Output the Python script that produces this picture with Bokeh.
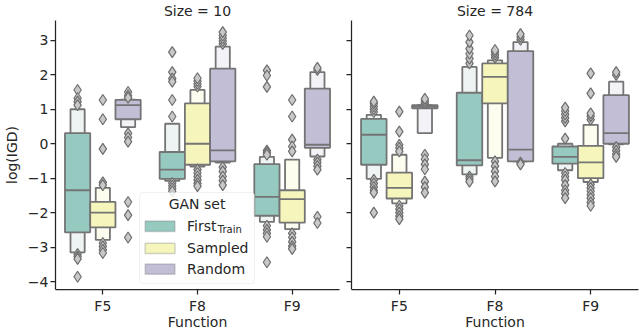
from bokeh.plotting import figure
from bokeh.models import Range1d, FixedTicker, BoxAnnotation, Label, CustomLabelingPolicy, Title
from bokeh.layouts import row
from bokeh.embed import file_html
from bokeh.resources import INLINE

# ---------------- data ----------------
functions = ["F5", "F8", "F9"]
gan_sets = ["First", "Sampled", "Random"]
panel_titles = ["Size = 10", "Size = 784"]
x_title = "Function"
y_title = "log(IGD)"
legend_title = "GAN set"
y_ticks = [-4, -3, -2, -1, 0, 1, 2, 3]
y_tick_labels = ["\u22124", "\u22123", "\u22122", "\u22121", "0", "1", "2", "3"]

# order of groups: F5-First, F5-Sampled, F5-Random, F8-First, ..., F9-Random
s10_inner_lo = [-2.57, -2.43, 0.71, -1.02, -0.61, -0.51, -2.09, -2.29, -0.12]
s10_inner_hi = [0.31, -1.69, 1.27, -0.24, 1.17, 2.18, -0.59, -1.35, 1.60]
s10_median = [-1.35, -2.00, 1.12, -0.75, 0.00, -0.19, -1.54, -1.61, -0.03]
s10_outer_lo = [-3.15, -2.79, 0.48, -1.08, -0.66, -0.55, -2.27, -2.48, -0.37]
s10_outer_hi = [1.00, -1.28, 1.28, 0.58, 1.56, 2.82, -0.38, -0.46, 2.08]
s10_outliers = [
    [1.56, 1.32, 1.22, 1.12, -3.20, -3.27, -3.34, -3.86],
    [1.27, 0.71, -0.15, -1.12, -1.20, -2.88, -2.98, -3.08, -3.17],
    [1.50, 1.40, 1.34, 0.30, 0.18, 0.06, -1.69, -2.07, -2.72],
    [2.66, 2.08, 1.89, 1.80, 1.27, 0.79, -1.14, -1.22, -1.30, -1.38],
    [1.66, 1.74, 1.82, 1.90, -0.75, -0.85, -0.95, -1.05, -1.15, -1.23],
    [2.90, 2.98, 3.06, 3.14, 3.24, -0.68, -0.80, -0.95, -1.07, -1.20],
    [2.13, 1.98, 1.65, -0.20, -0.26, -0.32, -2.38, -2.50, -2.60, -2.70, -3.44],
    [1.27, 0.79, 0.12, -0.08, -0.22, -2.60, -2.72, -2.85, -2.97, -3.05],
    [2.14, 2.20, -0.46, -0.55, -0.65, -0.75, -2.12, -2.30],
]

s784_inner_lo = [-0.61, -1.59, 1.03, -0.63, 1.17, -0.51, -0.58, -1.00, 0.00]
s784_inner_hi = [0.72, -0.84, 1.12, 1.48, 2.33, 2.69, -0.08, -0.06, 1.41]
s784_median = [0.26, -1.28, 1.08, -0.48, 1.94, -0.17, -0.38, -0.54, 0.31]
s784_outer_lo = [-1.02, -1.73, 0.31, -0.89, -0.41, -0.51, -0.77, -1.11, -0.02]
s784_outer_hi = [0.84, -0.32, 1.12, 2.23, 2.42, 2.95, 0.00, 0.55, 1.80]
s784_outliers = [
    [0.92, 1.00, 1.08, 1.16, 1.22, -1.05, -1.15, -1.25, -1.35, -1.42, -2.00],
    [0.93, 0.35, -0.03, -0.12, -0.22, -1.80, -1.90, -2.00, -2.10, -2.19],
    [1.18, 1.24, 1.30, -0.32, -0.45, -0.60, -0.74, -1.10, -1.26, -1.42],
    [2.33, 2.47, 2.61, 2.76, 2.95, 3.14, -0.95, -1.02, -1.10],
    [2.50, 2.58, 2.66, 2.72, -0.51, -0.65, -0.80, -0.95, -1.09],
    [3.02, 3.10, 3.18, -0.55, -0.60],
    [0.15, 0.65, 0.75, 0.85, 0.95, 1.05, -0.85, -0.95, -1.05, -1.20, -1.35, -1.45, -1.58],
    [2.04, 1.46, 0.70, 0.80, 0.88, -1.18, -1.28, -1.38, -1.48, -1.58, -1.70, -1.80],
    [2.00, 2.08, -0.10, -0.20, -0.30, -0.38],
]

# ---------------- style ----------------
inner_colors = ["#96cac1", "#f6f6bc", "#c1bed6"]
outer_colors = ["#eef4f3", "#fdfdef", "#f3f2f7"]
edge = "#747474"
ink = "#262626"
FONT = "DejaVu Sans"
Y_TOP = 3.576
Y_BOT = -4.230
FRAME_L = 53
FRAME_T = 20
FRAME_W = 286
FRAME_H = 271
INNER_W = 0.8 / 3
OUTER_W = 0.15
OFFS = [-INNER_W, 0.0, INNER_W]


def px_to_x(px):
    return -0.5 + (px - FRAME_L) / FRAME_W * 3


def py_to_y(py):
    return Y_TOP - (py - FRAME_T) * (Y_TOP - Y_BOT) / FRAME_H


def make_fig(width, left, right, title):
    t = Title(text=title, align="center", vertical_align="top", standoff=0,
              text_font=FONT, text_font_size="14px", text_font_style="normal",
              text_color=ink, text_line_height=0.6)
    p = figure(width=width, height=332, x_range=Range1d(-0.5, 2.5),
               y_range=Range1d(Y_BOT, Y_TOP), output_backend="svg",
               toolbar_location=None, min_border_left=left, min_border_right=right,
               min_border_top=FRAME_T, min_border_bottom=41, title=t)
    p.outline_line_color = None
    p.xgrid.visible = False
    p.ygrid.visible = False
    p.background_fill_color = "white"
    p.border_fill_color = "white"
    for ax in p.axis:
        ax.axis_line_color = ink
        ax.axis_line_width = 1.25
        ax.major_tick_line_color = ink
        ax.major_tick_line_width = 1.25
        ax.major_tick_out = 5
        ax.major_tick_in = 0
        ax.minor_tick_out = 0
        ax.minor_tick_in = 0
        ax.major_label_text_font = FONT
        ax.major_label_text_font_size = "14px"
        ax.major_label_text_color = ink
        ax.axis_label_text_font = FONT
        ax.axis_label_text_font_size = "14px"
        ax.axis_label_text_font_style = "normal"
        ax.axis_label_text_color = ink
    p.xaxis.ticker = FixedTicker(ticks=list(range(len(functions))))
    p.xaxis.major_label_overrides = {i: f for i, f in enumerate(functions)}
    p.xaxis.major_label_standoff = 3
    p.xaxis.axis_label = x_title
    p.xaxis.axis_label_standoff = -3
    p.yaxis.ticker = FixedTicker(ticks=y_ticks)
    return p


def draw_panel(p, inner_lo, inner_hi, median, outer_lo, outer_hi, outliers):
    xs, cols_in, cols_out = [], [], []
    for fi in range(len(functions)):
        for si in range(len(gan_sets)):
            xs.append(fi + OFFS[si])
            cols_in.append(inner_colors[si])
            cols_out.append(outer_colors[si])
    p.quad(left=[x - OUTER_W / 2 for x in xs], right=[x + OUTER_W / 2 for x in xs],
           bottom=outer_lo, top=outer_hi, fill_color=cols_out,
           line_color=edge, line_width=1.8)
    p.quad(left=[x - INNER_W / 2 for x in xs], right=[x + INNER_W / 2 for x in xs],
           bottom=inner_lo, top=inner_hi, fill_color=cols_in,
           line_color=edge, line_width=1.8)
    p.segment(x0=[x - INNER_W / 2 for x in xs], x1=[x + INNER_W / 2 for x in xs],
              y0=median, y1=median, line_color=edge, line_width=1.8)
    ox, oy = [], []
    for x, vals in zip(xs, outliers):
        for v in vals:
            ox.append(x)
            oy.append(v)
    p.scatter(ox, oy, marker="diamond", size=11, fill_color="#c8c8c8",
              line_color="#6e6e6e", line_width=1.2)


# ---------------- left panel ----------------
p1 = make_fig(340, FRAME_L, 1, panel_titles[0])
p1.yaxis.major_label_overrides = {t: l for t, l in zip(y_ticks, y_tick_labels)}
p1.yaxis.axis_label = y_title
p1.yaxis.major_label_standoff = 2
p1.yaxis.axis_label_standoff = 5
draw_panel(p1, s10_inner_lo, s10_inner_hi, s10_median, s10_outer_lo,
           s10_outer_hi, s10_outliers)

# legend (drawn by hand to allow the subscript)
p1.add_layout(BoxAnnotation(left=px_to_x(137.7), right=px_to_x(253.3),
                            top=py_to_y(193.3), bottom=py_to_y(285),
                            fill_color="white", fill_alpha=0.85,
                            line_color="#cccccc", line_width=1, border_radius=3))
p1.add_layout(Label(x=px_to_x(195.5), y=py_to_y(205), text=legend_title,
                    text_align="center", text_baseline="middle", text_font=FONT,
                    text_font_size="14px", text_color=ink))
row_centers = [227.3, 249.5, 270.5]
for si, name in enumerate(gan_sets):
    yc = row_centers[si]
    p1.add_layout(BoxAnnotation(left=px_to_x(143.3), right=px_to_x(173.3),
                                top=py_to_y(yc - 5.2), bottom=py_to_y(yc + 5.2),
                                fill_color=inner_colors[si], fill_alpha=1,
                                line_color=edge, line_width=1.5))
    p1.add_layout(Label(x=px_to_x(185.5), y=py_to_y(yc - 0.5), text=name,
                        text_align="left", text_baseline="middle", text_font=FONT,
                        text_font_size="14px", text_color=ink))
p1.add_layout(Label(x=px_to_x(216.5), y=py_to_y(230.5), text="Train",
                    text_align="left", text_baseline="middle", text_font=FONT,
                    text_font_size="10px", text_color=ink))

# ---------------- right panel ----------------
p2 = make_fig(300, 11, 2, panel_titles[1])
p2.yaxis.major_label_overrides = {t: "" for t in y_ticks}
p2.yaxis.major_label_policy = CustomLabelingPolicy(
    code="for (const i of indices) { indices.unset(i) }\nreturn indices")
p2.yaxis.major_label_standoff = 0
draw_panel(p2, s784_inner_lo, s784_inner_hi, s784_median, s784_outer_lo,
           s784_outer_hi, s784_outliers)

layout = row(p1, p2)
open("out.html", "w").write(file_html(layout, INLINE))
